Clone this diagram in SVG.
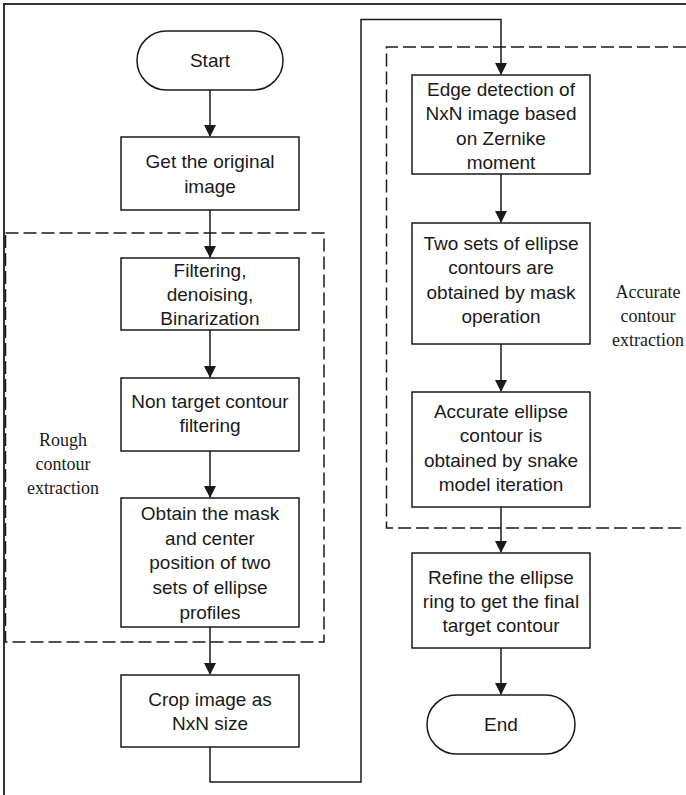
<svg xmlns="http://www.w3.org/2000/svg" width="686" height="795" viewBox="0 0 686 795">
<defs>
<style>
.node{fill:#fff;stroke:#1a1a1a;stroke-width:1.5}
.t{font-family:"Liberation Sans",Arial,sans-serif;font-size:19px;fill:#1a1a1a;text-anchor:middle}
.lbl{font-family:"Liberation Serif","Times New Roman",serif;font-size:18px;fill:#1a1a1a;text-anchor:middle}
.dash{fill:none;stroke:#1a1a1a;stroke-width:1.5;stroke-dasharray:13 5}
.c{fill:none;stroke:#1a1a1a;stroke-width:1.5}
.frame{fill:none;stroke:#333;stroke-width:2}
</style>
<marker id="ah" markerWidth="12" markerHeight="12" refX="11" refY="6" orient="auto" markerUnits="userSpaceOnUse">
<path d="M0,0 L12,6 L0,12 Z" fill="#1a1a1a"/>
</marker>
</defs>
<rect width="686" height="795" fill="#fff"/>
<path class="frame" d="M4,795 V4 H686"/>
<g id="groups">
<rect class="dash" x="5.5" y="233" width="318.5" height="409"/>
<path class="dash" d="M686,47 H386.5 V528 H686"/>
<text class="lbl" x="63" y="446">Rough</text>
<text class="lbl" x="63" y="470">contour</text>
<text class="lbl" x="63" y="494">extraction</text>
<text class="lbl" x="648" y="298">Accurate</text>
<text class="lbl" x="648" y="322">contour</text>
<text class="lbl" x="648" y="346">extraction</text>
</g>
<g id="connectors">
<path class="c" d="M210,90 V136" marker-end="url(#ah)"/>
<path class="c" d="M210,210 V257" marker-end="url(#ah)"/>
<path class="c" d="M210,330 V377" marker-end="url(#ah)"/>
<path class="c" d="M210,451 V497" marker-end="url(#ah)"/>
<path class="c" d="M210,627 V674" marker-end="url(#ah)"/>
<path class="c" d="M210,747 V782 H361 V19.5 H501 V74" marker-end="url(#ah)"/>
<path class="c" d="M501,174 V222" marker-end="url(#ah)"/>
<path class="c" d="M501,344 V391" marker-end="url(#ah)"/>
<path class="c" d="M501,507 V552" marker-end="url(#ah)"/>
<path class="c" d="M501,648 V694" marker-end="url(#ah)"/>
</g>
<g id="start">
<rect class="node" x="137" y="31" width="146" height="59" rx="29.5"/>
<text class="t" x="210" y="67">Start</text>
</g>
<g id="get-image">
<rect class="node" x="121" y="137" width="178" height="73"/>
<text class="t" x="210" y="168">Get the original</text>
<text class="t" x="210" y="193">image</text>
</g>
<g id="filtering">
<rect class="node" x="121" y="258" width="178" height="72"/>
<text class="t" x="210" y="277">Filtering,</text>
<text class="t" x="210" y="301">denoising,</text>
<text class="t" x="210" y="325">Binarization</text>
</g>
<g id="non-target">
<rect class="node" x="121" y="378" width="178" height="73"/>
<text class="t" x="210" y="408">Non target contour</text>
<text class="t" x="210" y="432">filtering</text>
</g>
<g id="obtain-mask">
<rect class="node" x="121" y="498" width="178" height="129"/>
<text class="t" x="210" y="520">Obtain the mask</text>
<text class="t" x="210" y="545">and center</text>
<text class="t" x="210" y="569">position of two</text>
<text class="t" x="210" y="594">sets of ellipse</text>
<text class="t" x="210" y="619">profiles</text>
</g>
<g id="crop">
<rect class="node" x="121" y="675" width="178" height="72"/>
<text class="t" x="210" y="706">Crop image as</text>
<text class="t" x="210" y="730">NxN size</text>
</g>
<g id="edge-detection">
<rect class="node" x="412" y="75" width="178" height="99"/>
<text class="t" x="501" y="96">Edge detection of</text>
<text class="t" x="501" y="120">NxN image based</text>
<text class="t" x="501" y="145">on Zernike</text>
<text class="t" x="501" y="169">moment</text>
</g>
<g id="two-sets">
<rect class="node" x="412" y="223" width="178" height="121"/>
<text class="t" x="501" y="250">Two sets of ellipse</text>
<text class="t" x="501" y="274">contours are</text>
<text class="t" x="501" y="299">obtained by mask</text>
<text class="t" x="501" y="323">operation</text>
</g>
<g id="accurate">
<rect class="node" x="412" y="392" width="178" height="115"/>
<text class="t" x="501" y="418">Accurate ellipse</text>
<text class="t" x="501" y="442">contour is</text>
<text class="t" x="501" y="467">obtained by snake</text>
<text class="t" x="501" y="491">model iteration</text>
</g>
<g id="refine">
<rect class="node" x="412" y="553" width="178" height="95"/>
<text class="t" x="501" y="584">Refine the ellipse</text>
<text class="t" x="501" y="608">ring to get the final</text>
<text class="t" x="501" y="632">target contour</text>
</g>
<g id="end">
<rect class="node" x="427" y="695" width="148" height="59" rx="29.5"/>
<text class="t" x="501" y="731">End</text>
</g>
</svg>
